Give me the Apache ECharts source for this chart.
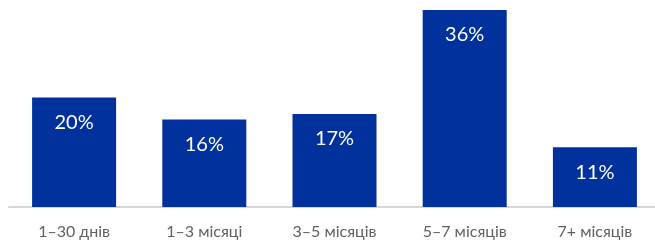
<!DOCTYPE html>
<html>
<head>
<meta charset="utf-8">
<script src="https://cdn.jsdelivr.net/npm/echarts@6/dist/echarts.min.js"></script>
<style>
  html, body { margin: 0; padding: 0; background: #fff; }
  #chart { width: 655px; height: 241px; }
</style>
</head>
<body>
<div id="chart"></div>
<script>
// періоди та частки
const categories = ['1–30 днів', '1–3 місяці', '3–5 місяців', '5–7 місяців', '7+ місяців']
const shares = [20, 16, 17, 36, 10.9]
const shareLabels = ['20%', '16%', '17%', '36%', '11%']

const chart = echarts.init(document.getElementById('chart'))
chart.setOption({
  animation: false,
  grid: { left: 9, width: 651, top: 10, bottom: 34, outerBoundsMode: 'none' },
  xAxis: {
    type: 'category',
    data: categories,
    axisLine: { lineStyle: { color: '#d6d6d6', width: 2 } },
    axisTick: { show: false },
    axisLabel: {
      color: '#5f5f5f',
      fontSize: 16,
      fontFamily: 'Lato',
      margin: 17
    }
  },
  yAxis: {
    type: 'value',
    min: 0,
    max: 36,
    show: false
  },
  series: [
    {
      type: 'bar',
      data: shares,
      barWidth: 84,
      itemStyle: { color: '#00319c' },
      label: {
        show: true,
        position: 'insideTop',
        distance: 15,
        color: '#fff',
        fontSize: 20,
        fontFamily: 'Lato',
        formatter: p => shareLabels[p.dataIndex]
      }
    }
  ]
})
</script>
</body>
</html>
